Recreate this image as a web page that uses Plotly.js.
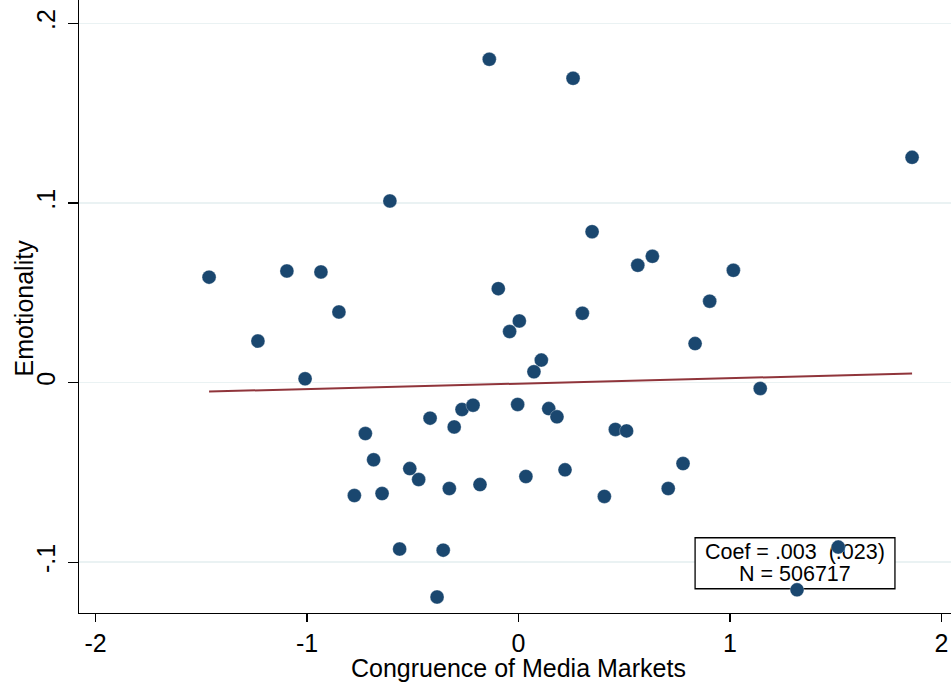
<!DOCTYPE html>
<html>
<head>
<meta charset="utf-8">
<script src="https://cdn.plot.ly/plotly-3.0.1.min.js"></script>
<style>html,body{margin:0;padding:0;background:#fff;}#chart{width:951px;height:683px;}</style>
</head>
<body>
<div id="chart"></div>
<script>
// Congruence of media markets (x) vs emotionality (y)
const congruence = [-1.463,-1.232,-1.095,-1.009,-0.934,-0.849,-0.608,-0.724,-0.685,-0.776,
  -0.645,-0.514,-0.472,-0.418,-0.327,-0.562,-0.356,-0.385,-0.304,-0.267,
  -0.215,-0.182,-0.138,0.258,1.861,0.348,0.564,0.633,1.016,0.904,
  -0.0955,0.302,0.004,-0.042,0.835,0.108,0.073,1.143,-0.004,0.143,
  0.182,0.458,0.511,0.778,0.708,0.220,0.035,0.406,1.512,1.317];
const emotionality = [0.0587,0.0231,0.0621,0.0021,0.0616,0.0393,0.1011,-0.0284,-0.0430,-0.0629,
  -0.0618,-0.0479,-0.0540,-0.0198,-0.0590,-0.0927,-0.0933,-0.1194,-0.0247,-0.0150,
  -0.0126,-0.0568,0.1800,0.1694,0.1254,0.0840,0.0653,0.0703,0.0625,0.0453,
  0.0523,0.0386,0.0343,0.0284,0.0217,0.0125,0.0060,-0.0033,-0.0122,-0.0145,
  -0.0191,-0.0261,-0.0269,-0.0451,-0.0590,-0.0486,-0.0523,-0.0634,-0.0916,-0.1154];
const fitX = [-1.463, 1.861];
const fitY = [-0.0050, 0.0050];
const xTickVals = [-2,-1,0,1,2];
const xTickText = ['-2','-1','0','1','2'];
const yTickVals = [-0.1,0,0.1,0.2];
const yTickText = ['-.1','0','.1','.2'];
const xTitle = 'Congruence of Media Markets';
const yTitle = 'Emotionality';
const statLines = ['Coef = .003\u00a0\u00a0(.023)', 'N = 506717'];

const FONT = 'Liberation Sans, Arial, Helvetica, sans-serif';

const traces = [
  {x:[1.307, 1.307], y:[-0.0953, -0.1073], mode:'text', text:statLines, textposition:'middle center',
   textfont:{family:FONT, size:21.5, color:'#000'}, hoverinfo:'skip', showlegend:false, cliponaxis:false},
  {x:fitX, y:fitY, mode:'lines', line:{color:'#90353B', width:2}, hoverinfo:'skip', showlegend:false},
  {x:congruence, y:emotionality, mode:'markers', type:'scatter',
   marker:{color:'#1A476F', size:14, line:{color:'#ffffff', width:0.3}}, showlegend:false, cliponaxis:false}
];

const layout = {
  width:951, height:683,
  margin:{l:79, r:0, t:0, b:70},
  paper_bgcolor:'#fff', plot_bgcolor:'#fff',
  font:{family:FONT, color:'#000'},
  showlegend:false,
  xaxis:{range:[-2.078, 2.045], tickvals:xTickVals, ticktext:xTickText,
    ticks:'outside', ticklen:8, tickwidth:1.3, tickcolor:'#000',
    showline:true, linecolor:'#000', linewidth:1.3, showgrid:false, zeroline:false,
    tickfont:{family:FONT, size:25, color:'#000'}},
  yaxis:{range:[-0.1283, 0.213], tickvals:yTickVals, ticktext:yTickText, tickangle:-90,
    ticks:'outside', ticklen:10, tickwidth:1.3, tickcolor:'#000', ticklabelstandoff:3,
    showline:true, linecolor:'#000', linewidth:1.3, showgrid:true, gridcolor:'#EAF2F3', gridwidth:1.5,
    zeroline:false,
    tickfont:{family:FONT, size:25, color:'#000'}},
  annotations:[
    {text:xTitle, xref:'x', x:0, yref:'paper', y:0, yanchor:'top', xanchor:'center', yshift:-39,
     showarrow:false, font:{family:FONT, size:25, color:'#000'}},
    {text:yTitle, xref:'paper', x:0, xanchor:'center', xshift:-56, yref:'paper', y:0.5, yanchor:'middle', yshift:-2,
     textangle:-90, showarrow:false, font:{family:FONT, size:25, color:'#000'}}
  ],
  shapes:[{type:'rect', xref:'x', yref:'y', x0:0.835, x1:1.780, y0:-0.1148, y1:-0.0864,
    fillcolor:'#fff', line:{color:'#000', width:1.3}, layer:'between'}]
};

Plotly.newPlot('chart', traces, layout, {displayModeBar:false, staticPlot:true});
</script>
</body>
</html>
